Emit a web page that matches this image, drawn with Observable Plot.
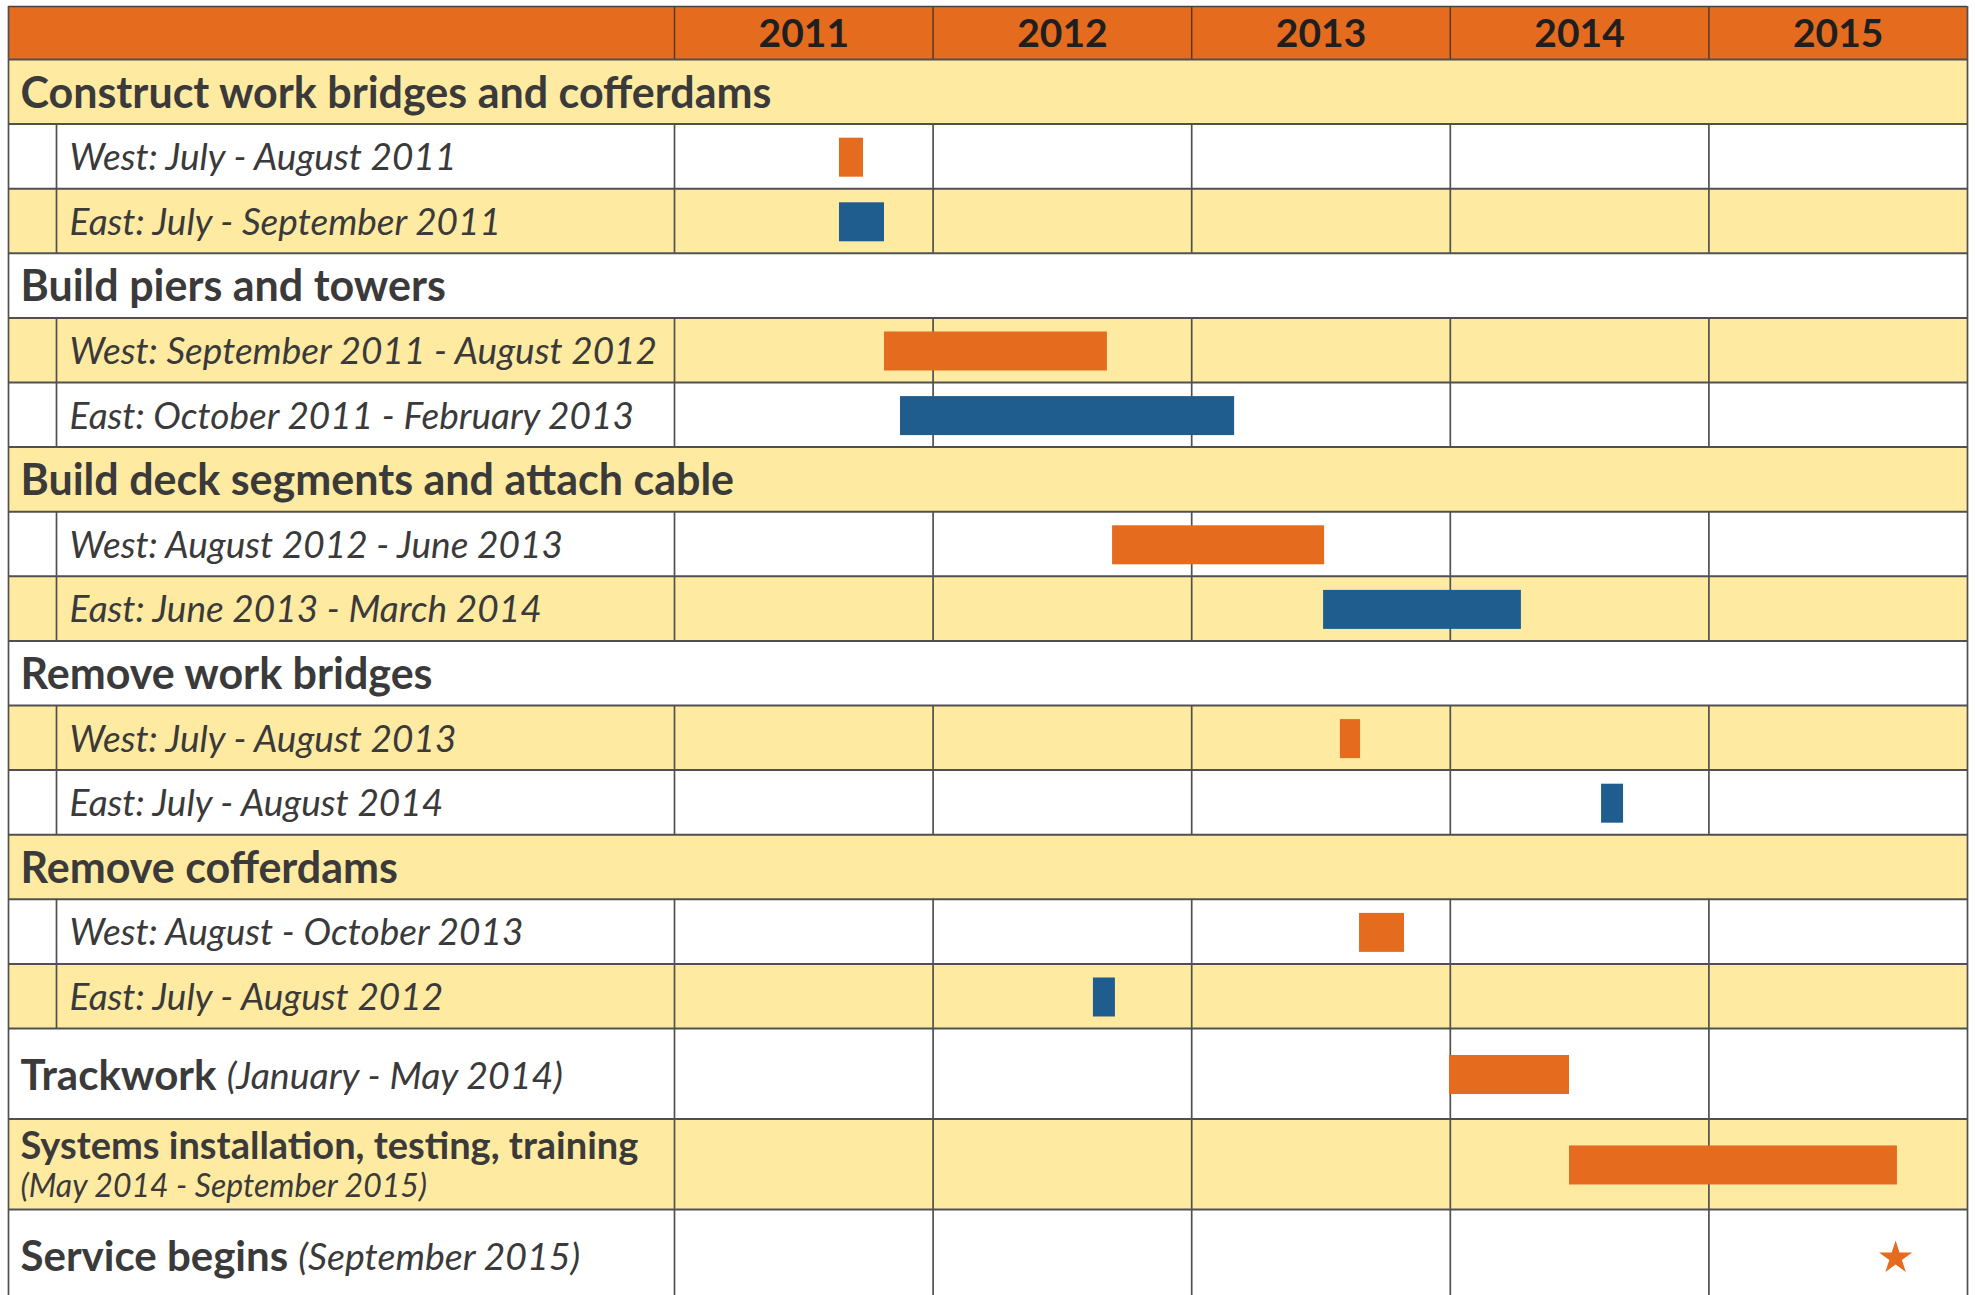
<!DOCTYPE html>
<html>
<head>
<meta charset="utf-8">
<script src="https://cdn.jsdelivr.net/npm/d3@7"></script>
<script src="https://cdn.jsdelivr.net/npm/@observablehq/plot@0.6"></script>
<style>
  html, body { margin: 0; padding: 0; background: #fff; overflow: hidden; }
  #chart svg { display: block; }
</style>
</head>
<body>
<div id="chart"></div>
<script>
// ---------------- DATA ----------------
const years = [2011, 2012, 2013, 2014, 2015];

const sections = [
  "Construct work bridges and cofferdams",
  "Build piers and towers",
  "Build deck segments and attach cable",
  "Remove work bridges",
  "Remove cofferdams"
];
const westLabels = [
  "West: July - August 2011",
  "West: September 2011 - August 2012",
  "West: August 2012 - June 2013",
  "West: July - August 2013",
  "West: August - October 2013"
];
const eastLabels = [
  "East: July - September 2011",
  "East: October 2011 - February 2013",
  "East: June 2013 - March 2014",
  "East: July - August 2014",
  "East: July - August 2012"
];
// bar extents in decimal years
const westStart = [2011.638, 2011.812, 2012.694, 2013.575, 2013.649];
const westEnd   = [2011.731, 2012.674, 2013.514, 2013.653, 2013.823];
const eastStart = [2011.638, 2011.874, 2013.510, 2014.585, 2012.620];
const eastEnd   = [2011.812, 2013.166, 2014.275, 2014.670, 2012.705];

const tasks = ["Trackwork", "Systems installation, testing, training", "Service begins"];
const taskNotes = ["(January - May 2014)", "(May 2014 - September 2015)", "(September 2015)"];
const taskStart = [2013.997, 2014.461, null];
const taskEnd   = [2014.461, 2015.729, null];
const serviceBegins = 2015.722; // star

// ---------------- STYLE / LAYOUT ----------------
const ORANGE = "#E56B1F", BLUE = "#1F5D8F", YELLOW = "#FFEAA1";
const TEXT = "#3a3a3a", YEAR_TEXT = "#1f1f1f", LINE = "#505050", HEADER_LINE = "#5a3a22";
const FONT = "Lato, 'Open Sans', sans-serif";
const W = 1975, H = 1300;
const PX_LEFT = 8, PX_RIGHT = 1967, PX_TOP = 6;
const PX_LABEL = 666, PX_INDENT = 48;
const PX_YEAR = (PX_RIGHT - PX_LEFT - PX_LABEL) / years.length;
const xLeft = years[0] - PX_LABEL / PX_YEAR;
const xIndent = xLeft + PX_INDENT / PX_YEAR;
const xRight = years[years.length - 1] + 1;
const ROW_PX = 64.6;
const HEADER_U = 53 / ROW_PX;
const TASK_U = 1.4;
const BAR_U = 39 / ROW_PX;
const F_SECTION = 43, F_SUB = 37, F_TASK = 42, F_TASKNOTE = 37.5, F_SYS = 38, F_SYSNOTE = 32, F_YEAR = 39;

// ---------------- ROWS ----------------
const rows = [];
let cursor = 0;
function addRow(r, h) { rows.push({...r, y1: cursor, y2: cursor + h, ym: cursor + h / 2}); cursor += h; }
sections.forEach((s, i) => {
  addRow({kind: "section", label: s}, 1);
  addRow({kind: "sub", label: westLabels[i], start: westStart[i], end: westEnd[i], side: "West"}, 1);
  addRow({kind: "sub", label: eastLabels[i], start: eastStart[i], end: eastEnd[i], side: "East"}, 1);
});
tasks.forEach((t, i) => addRow({kind: "task", idx: i, label: t, note: taskNotes[i], start: taskStart[i], end: taskEnd[i], side: "West"}, TASK_U));
rows.forEach((r, i) => r.yellow = i % 2 === 0);

const bodyCells = rows.filter(r => r.kind !== "section")
  .flatMap(r => years.map(yr => ({x: yr, y1: r.y1, y2: r.y2})));
const subRows = rows.filter(r => r.kind === "sub");
const sectionRows = rows.filter(r => r.kind === "section");
const taskRows = rows.filter(r => r.kind === "task");
const barRows = rows.filter(r => r.start != null);
const boundaries = [0, ...rows.map(r => r.y2)];

const ctx = document.createElement("canvas").getContext("2d");
function textWidth(s, font) { ctx.font = font; return ctx.measureText(s).width; }

const taskTextMarks = taskRows.flatMap(r => {
  if (r.idx === 1) {
    return [
      Plot.text([r], {x: xLeft, y: "ym", text: "label", dx: 12, dy: -5, textAnchor: "start", lineAnchor: "bottom",
        fontSize: F_SYS, fontWeight: 700, fill: TEXT}),
      Plot.text([r], {x: xLeft, y: "ym", text: "note", dx: 12, dy: 33, textAnchor: "start", lineAnchor: "bottom",
        fontSize: F_SYSNOTE, fontStyle: "italic", fill: TEXT})
    ];
  }
  const w = textWidth(r.label + " ", `700 ${F_TASK}px Lato`);
  return [
    Plot.text([r], {x: xLeft, y: "ym", text: "label", dx: 12, dy: 3, textAnchor: "start", lineAnchor: "middle",
      fontSize: F_TASK, fontWeight: 700, fill: TEXT}),
    Plot.text([r], {x: xLeft, y: "ym", text: "note", dx: 12 + w, dy: 3, textAnchor: "start", lineAnchor: "middle",
      fontSize: F_TASKNOTE, fontStyle: "italic", fill: TEXT})
  ];
});

const chart = Plot.plot({
  width: W,
  height: H,
  x: {domain: [xLeft, xRight], range: [PX_LEFT, PX_RIGHT], axis: null},
  y: {domain: [-HEADER_U, cursor], range: [PX_TOP, PX_TOP + (cursor + HEADER_U) * ROW_PX], axis: null},
  style: {fontFamily: FONT, background: "#fff", overflow: "visible"},
  marks: [
    // header
    Plot.rect([0], {x1: xLeft, x2: xRight, y1: -HEADER_U, y2: 0, fill: ORANGE}),
    // row backgrounds
    Plot.rect(rows.filter(r => r.yellow), {x1: xLeft, x2: xRight, y1: "y1", y2: "y2", fill: YELLOW}),
    Plot.rect(rows.filter(r => !r.yellow), {x1: xLeft, x2: xRight, y1: "y1", y2: "y2", fill: "#fff"}),
    // header dividers
    Plot.ruleX(years, {x: d => d, y1: -HEADER_U, y2: 0, stroke: HEADER_LINE, strokeWidth: 1.5}),
    // body vertical dividers
    Plot.ruleX(bodyCells, {x: "x", y1: "y1", y2: "y2", stroke: LINE, strokeWidth: 1.7}),
    Plot.ruleX(subRows, {x: xIndent, y1: "y1", y2: "y2", stroke: LINE, strokeWidth: 1.7}),
    // horizontal lines
    Plot.ruleY(boundaries, {y: d => d, x1: xLeft, x2: xRight, stroke: LINE, strokeWidth: 2}),
    Plot.ruleY([-HEADER_U], {y: d => d, x1: xLeft, x2: xRight, stroke: "#444", strokeWidth: 1.5}),
    // outer border
    Plot.ruleX([xLeft, xRight], {x: d => d, y1: -HEADER_U, y2: cursor, stroke: LINE, strokeWidth: 1.7}),
    // bars
    Plot.rect(barRows, {
      x1: "start", x2: "end",
      y1: d => d.ym - BAR_U / 2 + 0.02, y2: d => d.ym + BAR_U / 2 + 0.02,
      fill: d => d.side === "West" ? ORANGE : BLUE
    }),
    // milestone star
    Plot.dot([serviceBegins], {x: d => d, y: taskRows[2].ym + 0.05, symbol: "star", r: 10.4, fill: ORANGE, stroke: "none"}),
    // year labels
    Plot.text(years, {x: d => d + 0.5, y: -HEADER_U / 2, text: d => String(d), dy: 2, lineAnchor: "middle",
      fontSize: F_YEAR, fontWeight: 700, fill: YEAR_TEXT}),
    // section labels
    Plot.text(sectionRows, {x: xLeft, y: "ym", text: "label", dx: 12, dy: 2, textAnchor: "start", lineAnchor: "middle",
      fontSize: F_SECTION, fontWeight: 700, fill: TEXT}),
    // sub labels
    Plot.text(subRows, {x: xIndent, y: "ym", text: "label", dx: 13, dy: 2, textAnchor: "start", lineAnchor: "middle",
      fontSize: F_SUB, fontStyle: "italic", fill: TEXT}),
    ...taskTextMarks
  ]
});
document.getElementById("chart").append(chart);
</script>
</body>
</html>
